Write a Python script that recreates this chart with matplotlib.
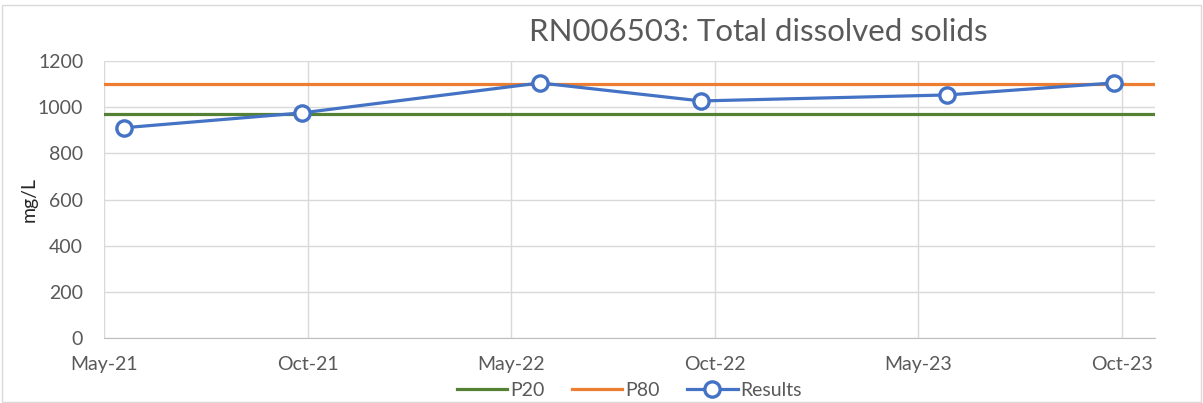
import pandas as pd
import matplotlib.pyplot as plt
import matplotlib.dates as mdates

plt.rcParams['font.family'] = ['Lato', 'DejaVu Sans']

# Datos
fechas = ['2021-05-19', '2021-10-25', '2022-05-27', '2022-10-18', '2023-05-27', '2023-10-23']
resultados = [911, 975, 1105, 1027, 1053, 1105]
p20 = 971
p80 = 1100
etiquetas_x = ['May-21', 'Oct-21', 'May-22', 'Oct-22', 'May-23', 'Oct-23']
ticks_y = [0, 200, 400, 600, 800, 1000, 1200]

inicio_eje = pd.Timestamp('2021-05-01')
fin_eje = pd.Timestamp('2023-11-29')
paso_dias = 182.5

gris = '#595959'
fechas = pd.to_datetime(fechas)

fig = plt.figure(figsize=(12.03, 4.03), dpi=100)
ax = fig.add_axes([0.0865, 0.1613, 0.8735, 0.6873])

ax.axhline(p20, color='#548235', lw=2.3, label='P20', zorder=2)
ax.axhline(p80, color='#ED7D31', lw=2.3, label='P80', zorder=2)
ax.plot(fechas, resultados, color='#4472C4', lw=2.3, marker='o', markersize=11,
        markerfacecolor='white', markeredgewidth=2.4, label='Results', zorder=3)

x0 = mdates.date2num(inicio_eje)
ax.set_xlim(x0, mdates.date2num(fin_eje))
ax.set_xticks([x0 + i * paso_dias for i in range(len(etiquetas_x))])
ax.set_xticklabels(etiquetas_x)
ax.set_ylim(0, 1200)
ax.set_yticks(ticks_y)

ax.grid(True, color='#D9D9D9', lw=1)
ax.set_axisbelow(True)
for s in ['top', 'right', 'left']:
    ax.spines[s].set_visible(False)
ax.spines['bottom'].set_color('#BFBFBF')
ax.tick_params(axis='both', length=0, labelsize=14, colors=gris)
ax.tick_params(axis='x', pad=13)
ax.tick_params(axis='y', pad=15)

ax.set_ylabel('mg/L', fontsize=14, color='#262626', labelpad=0)

fig.text(0.63, 0.92, 'RN006503: Total dissolved solids', fontsize=22.5,
         color=gris, ha='center', va='center')

ax.legend(loc='center', bbox_to_anchor=(0.5, -0.19), ncol=3, frameon=False,
          fontsize=14, labelcolor=gris, handlelength=2.6, handletextpad=0.15,
          columnspacing=1.4, borderpad=0)

# Borde exterior del grafico
fig.patches.append(plt.Rectangle((0.002, 0.002), 0.996, 0.985, transform=fig.transFigure,
                                 fill=False, edgecolor='#D9D9D9', lw=1))

fig.savefig('out.png', dpi=100)
